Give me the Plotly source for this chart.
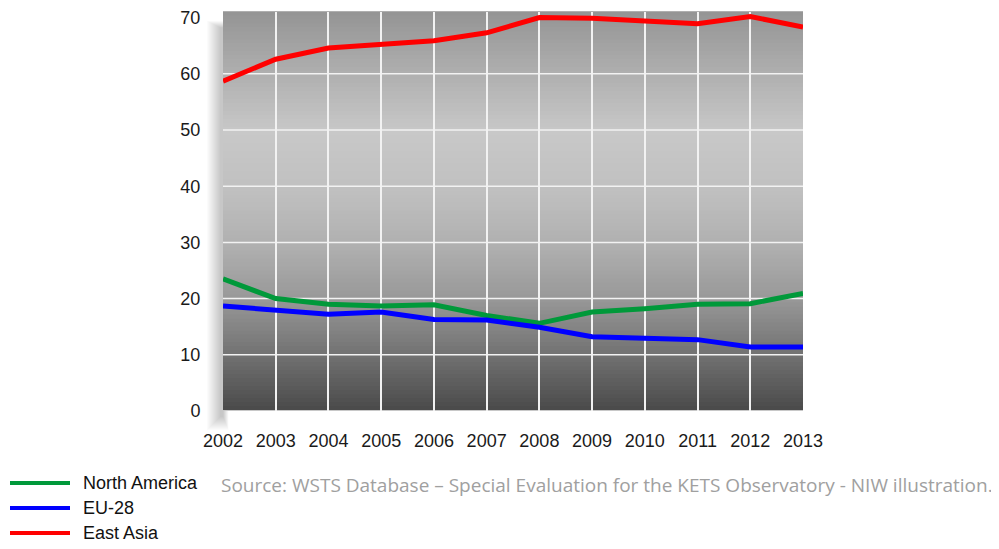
import plotly.graph_objects as go

# --- data ---
years = list(range(2002, 2014))
north_america = [23.5, 20.0, 19.0, 18.7, 18.9, 17.0, 15.6, 17.6, 18.2, 19.0, 19.1, 20.9]
eu_28 = [18.7, 17.9, 17.2, 17.6, 16.3, 16.2, 14.9, 13.2, 12.9, 12.7, 11.4, 11.4]
east_asia = [58.7, 62.6, 64.6, 65.2, 65.9, 67.3, 70.0, 69.9, 69.4, 68.9, 70.2, 68.3]
y_ticks = [0, 10, 20, 30, 40, 50, 60, 70]

series_names = ["North America", "EU-28", "East Asia"]
series_colors = ["#00993a", "#0000ff", "#ff0000"]
source_text = "Source: WSTS Database \u2013 Special Evaluation for the KETS Observatory - NIW illustration."

# page body has an 8px margin, so everything is laid out 8px up/left
OFF = 8
W, H = 999 - OFF, 549 - OFF
L, T = 223 - OFF, 12 - OFF
pw, ph = 580, 399
R, B = W - L - pw, H - T - ph
bottom_px = 411  # page y of the plot bottom

fig = go.Figure()
for name, vals, col in zip(series_names, [north_america, eu_28, east_asia], series_colors):
    fig.add_trace(go.Scatter(x=years, y=vals, mode="lines", name=name,
                             line=dict(color=col, width=5), showlegend=False))

shapes = []

# soft drop shadow (bottom-left)
for i in range(14):
    d = i + 1
    shapes.append(dict(type="rect", xref="paper", yref="paper", layer="below",
                       x0=(-2 - d) / pw, x1=(d * 0.4) / pw,
                       y0=(-5 - d) / ph, y1=1 - (16 - d * 0.5) / ph,
                       line=dict(width=0), fillcolor="rgba(0,0,0,0.014)"))
shapes.append(dict(type="rect", xref="paper", yref="paper", layer="below",
                   x0=0, x1=1, y0=0, y1=1, line=dict(width=0), fillcolor="#969696"))

# vertical grey gradient for the plot background
stops = [(0.0, 0x94), (0.30, 0xc8), (0.45, 0xc0), (0.60, 0xae),
         (0.72, 0x98), (0.85, 0x75), (1.0, 0x4a)]
nb = 100
for k in range(nb):
    f = (k + 0.5) / nb
    for (a, ca), (b, cb) in zip(stops[:-1], stops[1:]):
        if a <= f <= b:
            c = round(ca + (cb - ca) * (f - a) / (b - a))
            break
    shapes.append(dict(type="rect", xref="paper", yref="paper", layer="below",
                       x0=0, x1=1, y0=1 - (k + 1) / nb, y1=1 - k / nb + 0.002,
                       line=dict(width=0), fillcolor=f"rgb({c},{c},{c})"))

# horizontal grid lines (no line at the top tick)
for v in y_ticks[:-1]:
    shapes.append(dict(type="line", xref="paper", yref="y", layer="below",
                       x0=0, x1=1, y0=v, y1=v, line=dict(color="#f2f2f2", width=1.5)))

# manual legend
annotations = []
for i, (name, col) in enumerate(zip(series_names, series_colors)):
    yy = -(483 + 25 * i - bottom_px) / ph
    shapes.append(dict(type="line", xref="paper", yref="paper",
                       x0=(10 - 223) / pw, x1=(70 - 223) / pw, y0=yy, y1=yy,
                       line=dict(color=col, width=4)))
    annotations.append(dict(xref="paper", yref="paper", x=(81 - 223) / pw, y=yy,
                            xanchor="left", yanchor="middle", showarrow=False, text=name,
                            font=dict(family="Liberation Sans, Arial", size=18, color="#111111")))

annotations.append(dict(xref="paper", yref="paper", x=(219 - 223) / pw,
                        y=-(485 - bottom_px) / ph, xanchor="left", yanchor="middle",
                        showarrow=False, text=source_text,
                        font=dict(family="Open Sans", size=19, color="#a0a0a0")))

fig.update_layout(
    width=W, height=H,
    margin=dict(l=L, r=R, t=T, b=B),
    paper_bgcolor="white", plot_bgcolor="rgba(0,0,0,0)",
    font=dict(family="Liberation Sans, Arial", size=18, color="#1a1a1a"),
    shapes=shapes, annotations=annotations, showlegend=False,
    xaxis=dict(range=[years[0], years[-1]], tickvals=years, showgrid=True,
               gridcolor="#f2f2f2", gridwidth=1.5, zeroline=False, showline=False,
               ticks="outside", ticklen=13, tickcolor="rgba(0,0,0,0)",
               ticklabeloverflow="allow", automargin=False),
    yaxis=dict(range=[0, 71], tickvals=y_ticks, showgrid=False, zeroline=False,
               showline=False, ticks="outside", ticklen=18, tickcolor="rgba(0,0,0,0)",
               ticklabeloverflow="allow", automargin=False),
)

fig.write_html("out.html")
